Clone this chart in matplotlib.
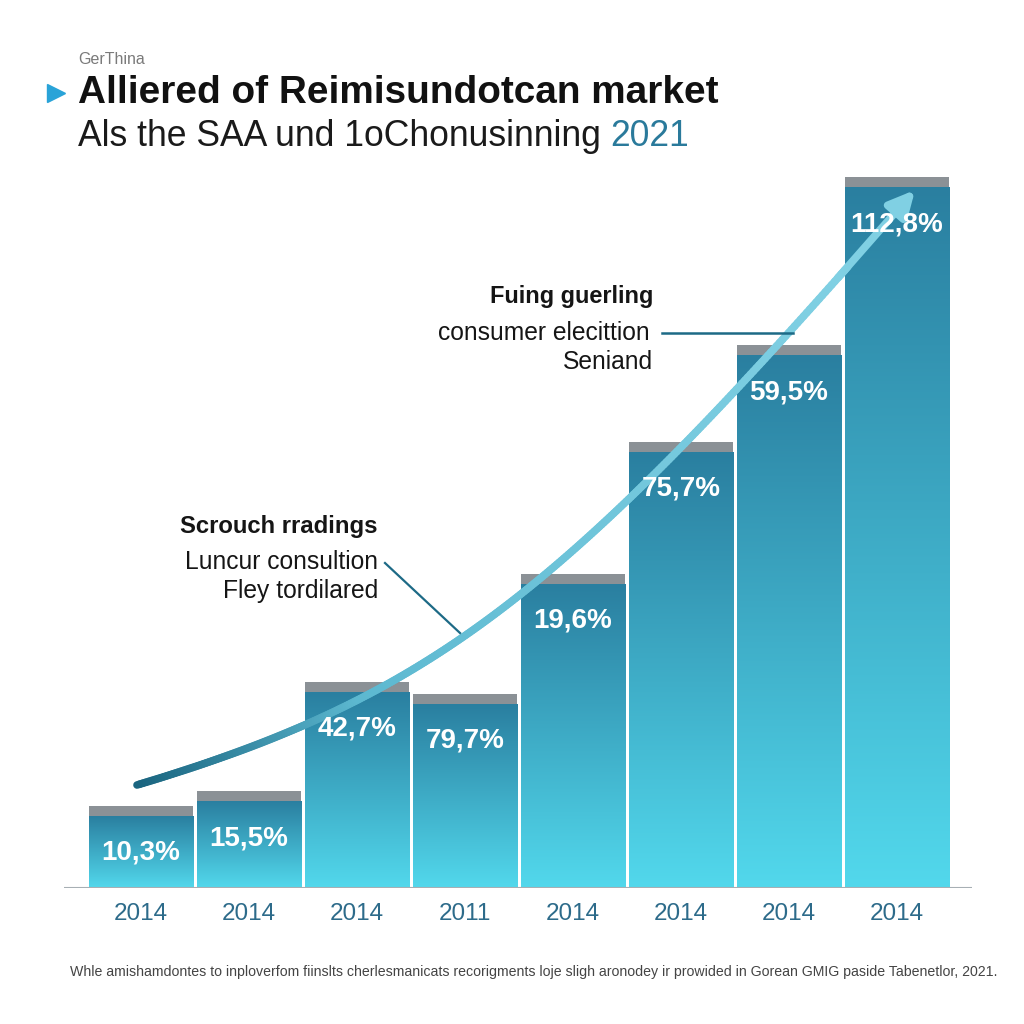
import numpy as np
import matplotlib.pyplot as plt
from matplotlib.colors import LinearSegmentedColormap
from matplotlib.patches import Rectangle
from matplotlib.collections import LineCollection
from matplotlib.lines import Line2D

years = ['2014', '2014', '2014', '2011', '2014', '2014', '2014', '2014']
heights = [8.2, 9.7, 20.6, 19.4, 31.4, 44.6, 54.3, 71.1]
labels = ['10,3%', '15,5%', '42,7%', '79,7%', '19,6%', '75,7%', '59,5%', '112,8%']

title = 'Alliered of Reimisundotcan market'
subtitle = 'Als the SAA und 1oChonusinning '
subtitle_year = '2021'
kicker = 'GerThina'
note_top = ['Fuing guerling', 'consumer elecittion', 'Seniand']
note_mid = ['Scrouch rradings', 'Luncur consultion', 'Fley tordilared']
footnote = ('Whle amishamdontes to inploverfom fiinslts cherlesmanicats recorigments '
            'loje sligh aronodey ir prowided in Gorean GMIG paside Tabenetlor, 2021.')

# trend arrow control points (data units)
trend = np.array([[-0.037, 10.3], [2.741, 19.3], [3.926, 29.55], [7.167, 69.8]])

plt.rcParams['font.family'] = ['Liberation Sans', 'DejaVu Sans']

W = 1024
def fx(px):
    return px / W
def fy(py):
    return 1 - py / W

fig = plt.figure(figsize=(10.24, 10.24), dpi=100)
fig.patch.set_facecolor('white')
ax = fig.add_axes([fx(64), fy(888), 908 / W, 788 / W])
ax.axis('off')

cap = 1.0
bw = 0.97
cmap = LinearSegmentedColormap.from_list('bars', ['#52d8ec', '#2a7fa0'])
grad = np.linspace(0, 1, 256).reshape(-1, 1)
for i, h in enumerate(heights):
    body = h - cap
    r = Rectangle((i - bw / 2, 0), bw, body, facecolor='none', edgecolor='none')
    ax.add_patch(r)
    im = ax.imshow(grad, extent=[i - bw / 2, i + bw / 2, 0, body], origin='lower',
                   cmap=cmap, aspect='auto', zorder=2)
    im.set_clip_path(r)
    ax.add_patch(Rectangle((i - bw / 2, body), bw, cap, facecolor='#8b9196',
                           edgecolor='none', zorder=2))
    ax.text(i, h - 4.7, labels[i], ha='center', va='center', color='white',
            fontsize=20, fontweight='bold', zorder=5)
    ax.text(i, -2.6, years[i], ha='center', va='center', color='#2d6b8a', fontsize=17.5)

ax.set_xlim(-0.713, 7.694)
ax.set_ylim(0, 78.8)
ax.axhline(0, color='#a7afb4', lw=1.5, zorder=3)

# trend curve (cubic bezier through control points)
t = np.linspace(0, 1, 300)[:, None]
P0, P1, P2, P3 = trend
B = (1 - t) ** 3 * P0 + 3 * (1 - t) ** 2 * t * P1 + 3 * (1 - t) * t ** 2 * P2 + t ** 3 * P3
pts = B[:-20]
segs = np.stack([pts[:-1], pts[1:]], axis=1)
lcmap = LinearSegmentedColormap.from_list('trend', [(0, '#1a6580'), (0.3, '#5cb8d0'), (1, '#80d0e3')])
lc = LineCollection(segs, cmap=lcmap, linewidths=5.5, capstyle='round', zorder=4)
lc.set_array(np.linspace(0, 1, len(segs)))
ax.add_collection(lc)
ax.annotate('', xy=P3, xytext=B[-24], zorder=4,
            arrowprops=dict(arrowstyle='-|>', mutation_scale=38, lw=5.5, color='#80d0e3',
                            shrinkA=0, shrinkB=0))

# header
fig.add_artist(Line2D([fx(56)], [fy(93)], marker='>', markersize=13, color='#29a3d8',
                      linestyle='none', transform=fig.transFigure))
fig.text(fx(78), fy(60), kicker, fontsize=11.5, color='#7a7a7a', va='center')
fig.text(fx(78), fy(93), title, fontsize=27.9, fontweight='bold', color='#111111', va='center')
st = fig.text(fx(78), fy(137), subtitle, fontsize=25.6, color='#1a1a1a', va='center')
fig.canvas.draw()
bb = st.get_window_extent()
fig.text(bb.x1 / W, fy(137), subtitle_year, fontsize=25.6, color='#2a7a9b', va='center')

# annotations
fig.text(fx(653), fy(297), note_top[0], fontsize=16.9, fontweight='bold', color='#151515',
         ha='right', va='center')
fig.text(fx(650), fy(333), note_top[1], fontsize=17.7, color='#151515', ha='right', va='center')
fig.text(fx(653), fy(362), note_top[2], fontsize=17.7, color='#151515', ha='right', va='center')
fig.add_artist(Line2D([fx(662), fx(793)], [fy(333), fy(333)], color='#1d6a86', lw=1.8,
                      transform=fig.transFigure))

fig.text(fx(378), fy(527), note_mid[0], fontsize=17.2, fontweight='bold', color='#151515',
         ha='right', va='center')
fig.text(fx(378), fy(562), note_mid[1], fontsize=17.7, color='#151515', ha='right', va='center')
fig.text(fx(378), fy(591), note_mid[2], fontsize=17.7, color='#151515', ha='right', va='center')
fig.add_artist(Line2D([fx(385), fx(460)], [fy(563), fy(633)], color='#1d6a86', lw=1.6,
                      transform=fig.transFigure))

fn = fig.text(fx(70), fy(972), footnote, fontsize=10, color='#444444', va='center')
fig.canvas.draw()
w = fn.get_window_extent().width
fn.set_fontsize(10 * 923 / w)

fig.savefig('out.png', dpi=100, facecolor='white')
